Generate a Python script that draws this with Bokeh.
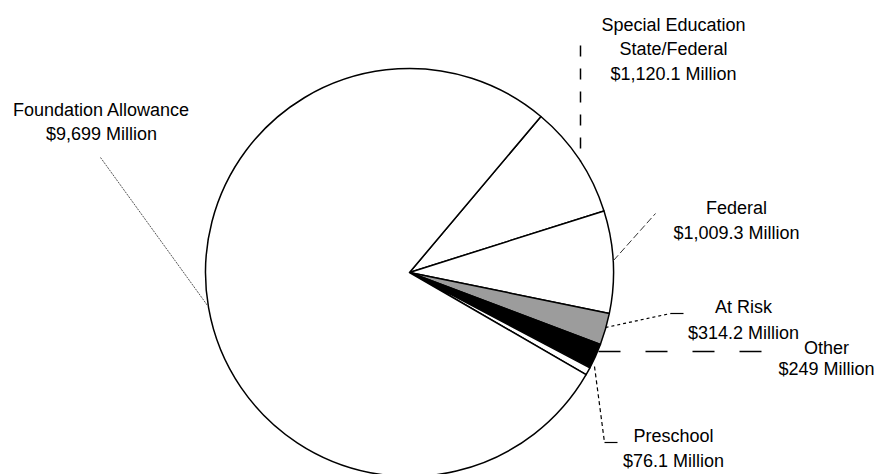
import math
from bokeh.plotting import figure
from bokeh.models import Range1d, ColumnDataSource
from bokeh.core.properties import value
from bokeh.embed import file_html
from bokeh.resources import INLINE

# ---- data (clockwise order starting at the top-right edge) ----
categories = ["Special Education State/Federal", "Federal", "At Risk",
              "Other", "Preschool", "Foundation Allowance"]
amounts = [1120.1, 1009.3, 314.2, 249.0, 76.1, 9699.0]
name_lines = [["Special Education", "State/Federal"], ["Federal"], ["At Risk"],
              ["Other"], ["Preschool"], ["Foundation Allowance"]]
amount_labels = ["$1,120.1 Million", "$1,009.3 Million", "$314.2 Million",
                 "$249 Million", "$76.1 Million", "$9,699 Million"]

# ---- styles / layout ----
fills = ["white", "white", "#9c9c9c", "black", "white", "white"]
W, H = 876, 474
CX, CY, R = 409, 272, 204          # pie centre / radius in screen px
START_DEG = 49.9                   # angle of the first slice's leading edge
FONT = "Liberation Sans"
# label block: centre x, first baseline y, line spacing (screen px)
label_pos = [(673, 24, 24.5), (736, 207, 25), (743, 306, 26),
             (826, 347, 21.5), (673, 435, 25), (101, 109, 24)]
# leader lines: list of (xs, ys, dash, width, color) in screen px
leaders = [
    ([580, 580], [45, 161], "11 12", 1.5, "black"),
    ([613, 655], [260, 213], "7 3", 1.0, "#333333"),
    ([605, 670], [327, 313], "3 3", 1.2, "black"),
    ([670, 683], [313, 313], "solid", 1.2, "black"),
    ([598, 773], [351, 351], "22 25", 1.5, "black"),
    ([594, 604], [366, 442], "4 3", 1.2, "black"),
    ([604, 617], [442, 442], "solid", 1.2, "black"),
    ([100, 207], [157, 305], "2 1", 1.0, "#555555"),
]


def fy(y):
    return H - y


total = sum(amounts)
starts, ends = [], []
cur = math.radians(START_DEG)
for a in amounts:
    span = a / total * 2 * math.pi
    ends.append(cur)
    starts.append(cur - span)
    cur -= span

src = ColumnDataSource(dict(cat=categories, amt=amounts, start=starts, end=ends,
                            fill=fills, x=[CX] * len(amounts),
                            y=[fy(CY)] * len(amounts)))

p = figure(width=W, height=H, x_range=Range1d(0, W), y_range=Range1d(0, H),
           output_backend="svg", toolbar_location=None, min_border=0)
p.axis.visible = False
p.grid.visible = False
p.outline_line_color = None
p.background_fill_color = "white"
p.border_fill_color = "white"

p.wedge(x="x", y="y", radius=R, start_angle="start", end_angle="end",
        direction="anticlock", fill_color="fill", line_color="black",
        line_width=1.5, line_join="round", source=src)

for xs, ys, dash, w, c in leaders:
    p.line(xs, [fy(v) for v in ys], line_dash=dash, line_width=w, line_color=c)

tx, ty, tt = [], [], []
for i in range(len(categories)):
    lines = name_lines[i] + [amount_labels[i]]
    cx, y0, dy = label_pos[i]
    for k, t in enumerate(lines):
        tx.append(cx)
        ty.append(fy(y0 + k * dy))
        tt.append(t)

p.text(x=tx, y=ty, text=tt, text_font=value(FONT), text_font_size="18px",
       text_align="center", text_baseline="alphabetic", text_color="black")

open("out.html", "w").write(file_html(p, INLINE))
